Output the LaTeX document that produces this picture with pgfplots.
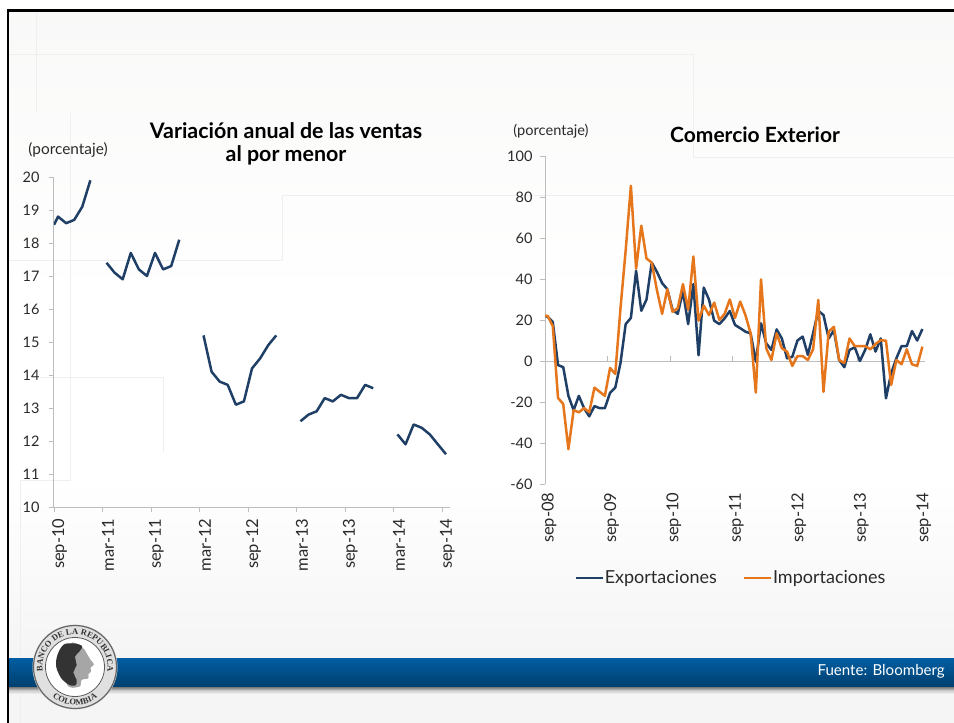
\documentclass[border=0pt]{standalone}
\usepackage{pgfplots}
\pgfplotsset{compat=1.18}
\usepackage{fontspec}
\setmainfont{Lato}
\newfontfamily\logofont{Liberation Serif}
\usetikzlibrary{decorations.text}
\definecolor{nblue}{HTML}{1F3F66}
\definecolor{norange}{HTML}{E5761B}
\definecolor{axc}{HTML}{BDBDBD}
\definecolor{txt}{HTML}{2A2A2A}
\definecolor{faint}{HTML}{EFEFEF}
\pgfplotsset{
  common/.style={
    scale only axis,
    anchor=south west,
    axis line style={-,draw=axc,line width=1pt},
    tick style={draw=axc,line width=0.8pt},
    major tick length=5pt,
    tick align=outside,
    xtick pos=lower, ytick pos=left,
    axis x line*=bottom, axis y line*=left,
    /pgf/number format/assume math mode=true,
    tick label style={text=txt,font=\fontsize{15}{15}\selectfont},
    clip=true,
    every axis plot/.append style={line width=2.5pt,line join=round,no markers},
  }
}
\pgfplotstableread{
x y
0 18.55
0.5 18.8
1.5 18.6
2.5 18.7
3.5 19.1
4.5 19.9
5.5 nan
6.5 17.4
7.5 17.1
8.5 16.9
9.5 17.7
10.5 17.2
11.5 17.0
12.5 17.7
13.5 17.2
14.5 17.3
15.5 18.1
16.5 nan
18.5 15.2
19.5 14.1
20.5 13.8
21.5 13.7
22.5 13.1
23.5 13.2
24.5 14.2
25.5 14.5
26.5 14.9
27.5 15.2
28.5 nan
30.5 12.6
31.5 12.8
32.5 12.9
33.5 13.3
34.5 13.2
35.5 13.4
36.5 13.3
37.5 13.3
38.5 13.7
39.5 13.6
40.5 nan
42.5 12.2
43.5 11.9
44.5 12.5
45.5 12.4
46.5 12.2
47.5 11.9
48.5 11.6
}\ventas
\pgfplotstableread{
x y
0 22
0.5 21.6
1.5 19
2.5 -2
3.5 -3
4.5 -17
5.5 -24
6.5 -17
7.5 -23
8.5 -27
9.5 -22
10.5 -23
11.5 -23
12.5 -15.5
13.5 -13
14.5 -1
15.5 18
16.5 21
17.5 44
18.5 24.5
19.5 30
20.5 48
21.5 43.5
22.5 38
23.5 35
24.5 25
25.5 23
26.5 34
27.5 18
28.5 37.5
29.5 2.8
30.5 35.8
31.5 30
32.5 19.7
33.5 18
34.5 20.8
35.5 24.4
36.5 17.6
37.5 16
38.5 14.3
39.5 13.5
40.5 -0.3
41.5 18.4
42.5 8.6
43.5 5.4
44.5 15.4
45.5 11
46.5 1.3
47.5 2
48.5 10
49.5 11.9
50.5 3
51.5 13.5
52.5 24.5
53.5 22.4
54.5 11
55.5 15
56.5 0.5
57.5 -3
58.5 5.4
59.5 6.7
60.5 0
61.5 5.4
62.5 13
63.5 4.6
64.5 11
65.5 -18.2
66.5 -6
67.5 1.3
68.5 7.3
69.5 7.3
70.5 14.6
71.5 10
72.5 15.6
}\expo
\pgfplotstableread{
x y
0 22
0.5 22
1.5 17
2.5 -18
3.5 -21
4.5 -43
5.5 -24
6.5 -25
7.5 -23
8.5 -25
9.5 -13
10.5 -15
11.5 -17
12.5 -3.4
13.5 -6.3
14.5 25.7
15.5 54
16.5 85.5
17.5 45
18.5 66
19.5 50
20.5 48
21.5 34.6
22.5 23
23.5 35
24.5 24
25.5 25.7
26.5 37.5
27.5 25
28.5 51
29.5 19.7
30.5 27
31.5 22.4
32.5 28.5
33.5 20
34.5 23
35.5 30
36.5 21
37.5 29
38.5 22.4
39.5 13.5
40.5 -15.4
41.5 39.8
42.5 6.2
43.5 0.5
44.5 13.5
45.5 6.2
46.5 4.6
47.5 -2.4
48.5 2.4
49.5 2.4
50.5 0.5
51.5 5.7
52.5 29.8
53.5 -15
54.5 14.3
55.5 16.7
56.5 0.5
57.5 -1
58.5 11
59.5 7.3
60.5 7.3
61.5 7.3
62.5 5.7
63.5 8.3
64.5 10.2
65.5 9.9
66.5 -11.7
67.5 0.5
68.5 -1.6
69.5 5.7
70.5 -1.6
71.5 -2.4
72.5 7
}\impo
\begin{document}
\begin{tikzpicture}
\path[use as bounding box] (0,0) rectangle (954pt,-723pt);
\begin{scope}[x=1pt,y=-1pt]
  \fill[white] (0,0) rectangle (954,723);
  \shade[top color=white!93!yellow!60!black!6,bottom color=white] (9,12) rectangle (954,300);
  \fill[white] (9,300) rectangle (954,480);
  \shade[top color=white,bottom color=white!96!black] (9,480) rectangle (954,658);
  \fill[white!96!black] (9,658) rectangle (954,723);
  % faint background lines
  \begin{scope}[draw=faint,line width=1pt]
    \draw (9,54) -- (693,54) -- (693,157) -- (954,157);
    \draw (954,195) -- (282,195) -- (282,260) -- (9,260);
    \draw (36,12) -- (36,113);
    \draw (70,113) -- (70,480) -- (20,480) -- (20,723);
    \draw (40,377) -- (163,377) -- (163,452);
  \end{scope}
  % frame
  \fill[black] (6.5,9) rectangle (954,12);
  \fill[black] (6.5,9) rectangle (9,723);
\end{scope}

% left chart
\begin{axis}[common,
  at={(54pt,-507pt)}, width=396pt, height=330pt,
  xmin=0, xmax=49, ymin=10, ymax=20,
  ytick={10,11,...,20},
  yticklabel style={xshift=-6pt,font=\fontsize{14.5}{14.5}\selectfont},
  xtick={0,6,...,48},
  xticklabels={sep-10,mar-11,sep-11,mar-12,sep-12,mar-13,sep-13,mar-14,sep-14},
  xticklabel style={rotate=90,anchor=east,xshift=-3pt,yshift=-5.5pt,font=\fontsize{16.5}{16.5}\selectfont},
  unbounded coords=jump,
]
\addplot[nblue] table {\ventas};
\end{axis}

% right chart
\begin{axis}[common,
  at={(545pt,-484pt)}, width=380pt, height=328pt,
  xmin=0, xmax=73, ymin=-60, ymax=100,
  ytick={-60,-40,...,100},
  yticklabel style={xshift=-4pt,font=\fontsize{14.5}{14.5}\selectfont},
  xtick={0,12,...,72},
  xticklabels={sep-08,sep-09,sep-10,sep-11,sep-12,sep-13,sep-14},
  xticklabel style={rotate=90,anchor=east,xshift=0pt,yshift=-4pt,font=\fontsize{16.5}{16.5}\selectfont},
  major x tick style={draw=none},
  x axis line style={draw=none},
  legend columns=2,
  legend style={at={(731pt-545pt,-94pt)},anchor=center,draw=none,fill=none,
    font=\fontsize{18}{18}\selectfont,text=txt,
    /tikz/every even column/.append style={column sep=24pt},
    /tikz/every odd column/.append style={column sep=-1pt},
    cells={anchor=west},/tikz/inner sep=0pt},
  legend image code/.code={\draw[#1,line width=2.2pt] (0,0) -- (27pt,0);},
  legend cell align=left,
]
\draw[axc,line width=1pt] (axis cs:0,0) -- (axis cs:73,0);
\foreach \t in {12,24,36,48,60,72} {\edef\x{\noexpand\draw[axc,line width=0.8pt] (axis cs:\t,0) -- (axis cs:\t,2.5);}\x}
\addplot[nblue] table {\expo};
\addplot[norange] table {\impo};
\legend{Exportaciones,Importaciones}
\end{axis}

\begin{scope}[x=1pt,y=-1pt]
  \node[text=txt,font=\fontsize{15.4}{15.4}\selectfont,inner sep=0pt] at (68,150) {(porcentaje)};
  \node[text=txt,font=\fontsize{14.6}{14.6}\selectfont,inner sep=0pt] at (551,131) {(porcentaje)};
  \node[text=black,font=\fontsize{21.4}{23}\selectfont\bfseries,inner sep=0pt,align=center] at (286,143.5) {Variación anual de las ventas\\al por menor};
  \node[text=black,font=\fontsize{21}{23}\selectfont\bfseries,inner sep=0pt] at (755,135) {Comercio Exterior};
  % band
  \shade[top color=black!35,bottom color=white!96!black] (9,687) rectangle (954,694);
  \shade[top color=black!70,bottom color=black!35] (9,685) rectangle (954,689);
  \definecolor{bandtop}{HTML}{015DA3}\definecolor{bandbot}{HTML}{00406F}
  \shade[top color=bandtop,bottom color=bandbot] (9,658) rectangle (954,686);
  \node[text=white,font=\fontsize{15.1}{15.1}\selectfont,anchor=east,inner sep=0pt] at (945,671) {Fuente: Bloomberg};
  % logo
  \fill[black!12] (75,667) circle (42.5);
  \draw[black!60,line width=1.2pt] (75,667) circle (41.5);
  \fill[white] (75,667) circle (29.5);
  \draw[black!65,line width=0.8pt] (75,667) circle (29.5);
  \begin{scope}[shift={(20,615)},x=0.3333pt,y=-0.3333pt]
    \fill[black!35] plot[smooth cycle,tension=0.6] coordinates {(150,90)(185,95)(200,115)(212,135)(222,148)(212,158)(213,170)(205,178)(205,190)(185,195)(178,215)(140,205)};
    \fill[black!80] plot[smooth cycle,tension=0.7] coordinates {(125,95)(150,85)(185,92)(178,110)(165,125)(170,150)(160,172)(170,195)(165,212)(140,205)(118,180)(108,140)};
  \end{scope}
\end{scope}
\begin{scope}[shift={(75pt,-667pt)},x=1pt,y=1pt]
  \path[decorate,decoration={text along path,text align=center,
     text={|\logofont\bfseries\fontsize{8.5}{8.5}\selectfont\color{black!80}|BANCO DE LA REPUBLICA}}]
     (195:32.5) arc (195:-15:32.5);
  \path[decorate,decoration={text along path,text align=center,
     text={|\logofont\bfseries\fontsize{8.5}{8.5}\selectfont\color{black!80}|COLOMBIA}}]
     (225:38) arc (225:315:38);
\end{scope}
\end{tikzpicture}
\end{document}
